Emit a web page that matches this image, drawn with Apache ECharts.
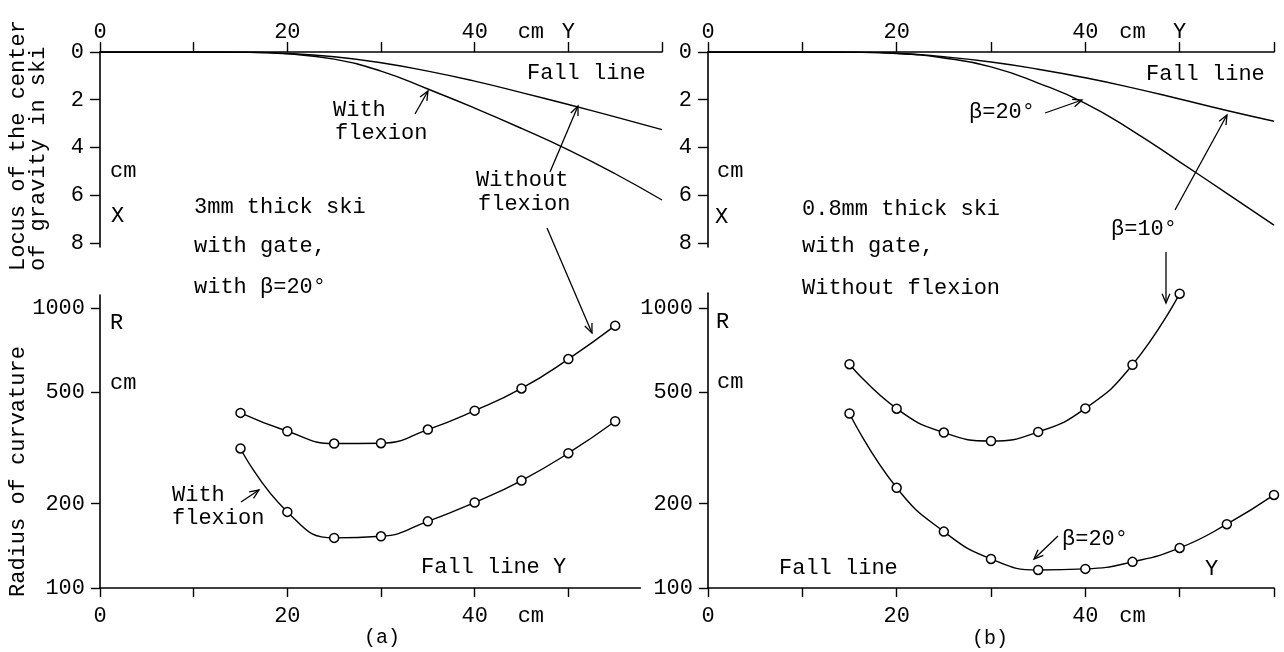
<!DOCTYPE html>
<html><head><meta charset="utf-8">
<script src="https://cdn.jsdelivr.net/npm/echarts@6/dist/echarts.min.js"></script>
<style>html,body{margin:0;padding:0;background:#fff}#c{width:1284px;height:652px}</style>
</head><body><div id="c"></div>
<script>
// ---------- data ----------
// Locus of the centre of gravity (top panels): Y position (cm) vs X deflection (cm)
const locusY = [0, 5, 10, 15, 20, 25, 30, 35, 40, 45, 50, 55, 60];
const aLocusWithoutFlexion = [0, 0, 0, 0.01, 0.06, 0.2, 0.45, 0.8, 1.22, 1.7, 2.2, 2.72, 3.25];
const aLocusWithFlexion    = [0, 0, 0, 0.01, 0.08, 0.3, 0.8, 1.55, 2.35, 3.2, 4.1, 5.1, 6.2];
const bLocusBeta10         = [0, 0, 0, 0.01, 0.05, 0.2, 0.42, 0.72, 1.08, 1.5, 1.97, 2.45, 2.9];
const bLocusBeta20         = [0, 0, 0, 0.01, 0.06, 0.25, 0.62, 1.3, 2.15, 3.3, 4.6, 5.92, 7.25];

// Radius of curvature (bottom panels)
const aRadiusY = [15, 20, 25, 30, 35, 40, 45, 50, 55];
const aRadiusWithoutFlexion = [422, 363, 328, 329, 368, 430, 516, 657, 865];
const aRadiusWithFlexion    = [315, 187, 151, 153, 173, 202, 242, 303, 394];
const bRadiusBeta10Y = [15, 20, 25, 30, 35, 40, 45, 50];
const bRadiusBeta10  = [630, 437, 359, 335, 361, 438, 627, 1125];
const bRadiusBeta20Y = [15, 20, 25, 30, 35, 40, 45, 50, 55, 60];
const bRadiusBeta20  = [420, 228, 159, 127, 116, 117, 124, 139, 169, 215];

// ticks and labels
const xTickValues = [0, 10, 20, 30, 40, 50, 60];
const xTopLabelValuesA = [0, 20, 40, 46, 50];
const xTopLabelValuesB = [0, 20, 40, 45, 50];
const xBottomLabelValuesA = [0, 20, 40, 46];
const xBottomLabelValuesB = [0, 20, 40, 45];
const xLabelText = {0: '0', 20: '20', 40: '40', 45: 'cm', 46: 'cm', 50: 'Y'};
const locusTicks = [0, 2, 4, 6, 8];
const radiusTicks = [100, 200, 500, 1000];

// ---------- layout ----------
const FONT = 'Liberation Mono';
const FS = 22;
const TOP_Y0 = 52, TOP_H = 195, TOP_MAX = 8.168;
const BOT_Y1 = 588, DECADE = 280;
const A_LEFT = 100, B_LEFT = 708;
const UNIT_A = 562 / 60, UNIT_B = 566 / 60;
const A_BOT_XMAX = 57.7;
const A_RMAX = 1113, B_RMAX = 1130;
const aBotH = DECADE * Math.log10(A_RMAX / 100);
const bBotH = DECADE * Math.log10(B_RMAX / 100);

const black = '#000';
const axisLine = {show: true, onZero: false, lineStyle: {color: black, width: 1.6}};
const lblStyle = {color: black, fontFamily: FONT, fontSize: FS};

function xAxis(grid, pos, max, tickVals, labelVals) {
  return {
    type: 'value', gridIndex: grid, position: pos, min: 0, max: max,
    axisLine: axisLine,
    axisTick: {show: true, inside: false, length: pos === 'top' ? 10 : 9, customValues: tickVals,
      lineStyle: {color: black, width: 1.4}},
    axisLabel: Object.assign({show: true, margin: pos === 'top' ? 9 : 17, customValues: labelVals,
      formatter: v => xLabelText[v] !== undefined ? xLabelText[v] : String(v)}, lblStyle),
    splitLine: {show: false}
  };
}
function yLocus(grid) {
  return {
    type: 'value', gridIndex: grid, inverse: true, min: 0, max: TOP_MAX,
    axisLine: axisLine,
    axisTick: {show: true, length: 10, customValues: locusTicks, lineStyle: {color: black, width: 1.4}},
    axisLabel: Object.assign({margin: 16, customValues: locusTicks}, lblStyle),
    splitLine: {show: false}
  };
}
function yRadius(grid, max) {
  return {
    type: 'log', logBase: 10, gridIndex: grid, min: 100, max: max,
    axisLine: axisLine,
    axisTick: {show: true, length: 9, customValues: radiusTicks, lineStyle: {color: black, width: 1.4}},
    axisLabel: Object.assign({margin: 15, customValues: radiusTicks, formatter: v => String(Math.round(v))}, lblStyle),
    splitLine: {show: false}, minorTick: {show: false}
  };
}

function pairs(xs, ys) { return xs.map((x, i) => [x, ys[i]]); }
function curve(xi, yi, xs, ys) {
  return {type: 'line', xAxisIndex: xi, yAxisIndex: yi, data: pairs(xs, ys), smooth: 0.5,
    symbol: 'none', lineStyle: {color: black, width: 1.4}, silent: true};
}
function measured(xi, yi, xs, ys) {
  return {type: 'line', xAxisIndex: xi, yAxisIndex: yi, data: pairs(xs, ys), smooth: 0.5,
    symbol: 'circle', symbolSize: 9, showSymbol: true,
    itemStyle: {color: '#fff', borderColor: black, borderWidth: 1.5},
    lineStyle: {color: black, width: 1.4}, silent: true};
}

// ---------- annotations ----------
function txt(s, x, y, o) {
  o = o || {};
  return {type: 'text', x: x, y: y, rotation: o.rot || 0, z: 10,
    style: {text: s, fill: black, fontFamily: FONT, fontSize: o.fs || FS,
      align: o.align || 'left', verticalAlign: 'middle', lineHeight: o.lh || FS}};
}
function arrow(x1, y1, x2, y2) {
  const a = Math.atan2(y2 - y1, x2 - x1), L = 10, w = 0.4;
  return [
    {type: 'line', z: 10, shape: {x1: x1, y1: y1, x2: x2, y2: y2}, style: {stroke: black, lineWidth: 1.3}},
    {type: 'polyline', z: 10, shape: {points: [[x2 - L * Math.cos(a - w), y2 - L * Math.sin(a - w)], [x2, y2],
      [x2 - L * Math.cos(a + w), y2 - L * Math.sin(a + w)]]}, style: {stroke: black, fill: null, lineWidth: 1.3}}
  ];
}

const graphics = [
  txt('Locus of the center\nof gravity in ski', 28, 271, {rot: Math.PI / 2, lh: 20}),
  txt('Radius of curvature', 18, 597, {rot: Math.PI / 2}),
  // panel (a)
  txt('Fall line', 527, 73),
  txt('With', 333, 110), txt('flexion', 335, 133),
  txt('Without', 476, 180), txt('flexion', 478, 204),
  txt('3mm thick ski', 194, 207),
  txt('with gate,', 194, 246),
  txt('with \u03B2=20\u00B0', 194, 287),
  txt('cm', 110, 171), txt('X', 111, 216),
  txt('R', 110, 323), txt('cm', 110, 383),
  txt('With', 172, 495), txt('flexion', 172, 518),
  txt('Fall line Y', 421, 567),
  txt('(a)', 382, 638, {align: 'center', fs: 20}),
  // panel (b)
  txt('Fall line', 1146, 74),
  txt('\u03B2=20\u00B0', 969, 112),
  txt('\u03B2=10\u00B0', 1111, 229),
  txt('0.8mm thick ski', 802, 209),
  txt('with gate,', 802, 246),
  txt('Without flexion', 802, 288),
  txt('cm', 717, 171), txt('X', 715, 217),
  txt('R', 716, 322), txt('cm', 717, 382),
  txt('\u03B2=20\u00B0', 1062, 539),
  txt('Fall line', 779, 568),
  txt('Y', 1205, 569),
  txt('(b)', 990, 639, {align: 'center', fs: 20})
].concat(
  arrow(415, 114, 428, 91),
  arrow(550, 172, 578, 106),
  arrow(547, 228, 592, 333),
  arrow(241, 502, 259, 490),
  arrow(1045, 113, 1082, 100),
  arrow(1175, 210, 1227, 115),
  arrow(1166, 252, 1166, 303),
  arrow(1058, 536, 1034, 559)
);

const option = {
  backgroundColor: '#fff',
  animation: false,
  grid: [
    {left: A_LEFT, top: TOP_Y0, width: 60 * UNIT_A, height: TOP_H, outerBoundsMode: 'none', containLabel: false},
    {left: A_LEFT, top: BOT_Y1 - aBotH, width: A_BOT_XMAX * UNIT_A, height: aBotH, outerBoundsMode: 'none', containLabel: false},
    {left: B_LEFT, top: TOP_Y0, width: 60 * UNIT_B, height: TOP_H, outerBoundsMode: 'none', containLabel: false},
    {left: B_LEFT, top: BOT_Y1 - bBotH, width: 60 * UNIT_B, height: bBotH, outerBoundsMode: 'none', containLabel: false}
  ],
  xAxis: [
    xAxis(0, 'top', 60, xTickValues, xTopLabelValuesA),
    xAxis(1, 'bottom', A_BOT_XMAX, xTickValues.filter(v => v <= A_BOT_XMAX), xBottomLabelValuesA),
    xAxis(2, 'top', 60, xTickValues, xTopLabelValuesB),
    xAxis(3, 'bottom', 60, xTickValues, xBottomLabelValuesB)
  ],
  yAxis: [yLocus(0), yRadius(1, A_RMAX), yLocus(2), yRadius(3, B_RMAX)],
  series: [
    curve(0, 0, locusY, aLocusWithoutFlexion),
    curve(0, 0, locusY, aLocusWithFlexion),
    measured(1, 1, aRadiusY, aRadiusWithoutFlexion),
    measured(1, 1, aRadiusY, aRadiusWithFlexion),
    curve(2, 2, locusY, bLocusBeta10),
    curve(2, 2, locusY, bLocusBeta20),
    measured(3, 3, bRadiusBeta10Y, bRadiusBeta10),
    measured(3, 3, bRadiusBeta20Y, bRadiusBeta20)
  ],
  graphic: graphics
};

const chart = echarts.init(document.getElementById('c'), null, {renderer: 'canvas'});
chart.setOption(option);
</script></body></html>
